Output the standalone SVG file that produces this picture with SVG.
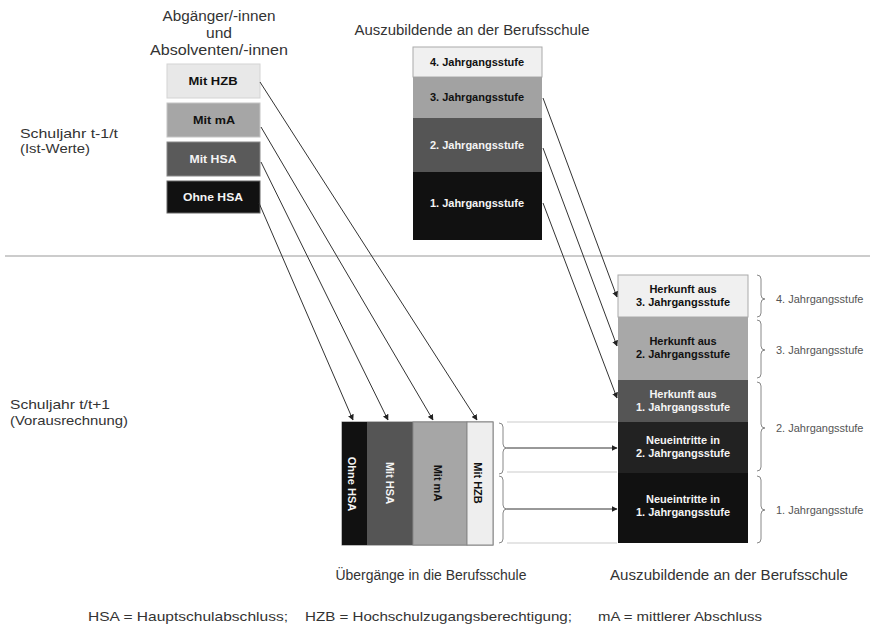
<svg xmlns="http://www.w3.org/2000/svg" width="875" height="629" viewBox="0 0 875 629">
<defs>
<marker id="ah" viewBox="0 0 10 10" refX="9" refY="5" markerWidth="6" markerHeight="6" orient="auto" markerUnits="userSpaceOnUse">
<path d="M0,0 L10,5 L0,10 z" fill="#222"/>
</marker>
<style>
text{font-family:"Liberation Sans",Arial,sans-serif;}
.hd{font-size:14px;fill:#333;text-anchor:middle;}
.lb{font-size:13px;fill:#333;}
.bx{font-size:11px;font-weight:bold;text-anchor:middle;}
.dk{fill:#111;}
.wt{fill:#f4f4f4;}
.side{font-size:11px;fill:#555;}
.conn{stroke:#333;stroke-width:1;fill:none;marker-end:url(#ah);}
.brace{stroke:#888;stroke-width:1;fill:none;}
.guide{stroke:#ccc;stroke-width:1.2;fill:none;}
.foot{font-size:13px;fill:#333;}
</style>
</defs>
<rect width="875" height="629" fill="#fff"/>

<g id="labels">
<text class="hd" x="219" y="21" textLength="113" lengthAdjust="spacingAndGlyphs">Abgänger/-innen</text>
<text class="hd" x="219" y="38" textLength="26" lengthAdjust="spacingAndGlyphs">und</text>
<text class="hd" x="219" y="55" textLength="138" lengthAdjust="spacingAndGlyphs">Absolventen/-innen</text>
<text class="hd" x="472" y="35" textLength="235" lengthAdjust="spacingAndGlyphs">Auszubildende  an der Berufsschule</text>
<text class="lb" x="20" y="138" textLength="98" lengthAdjust="spacingAndGlyphs">Schuljahr  t-1/t</text>
<text class="lb" x="20" y="153" textLength="70" lengthAdjust="spacingAndGlyphs">(Ist-Werte)</text>
<text class="lb" x="10" y="409" textLength="100" lengthAdjust="spacingAndGlyphs">Schuljahr  t/t+1</text>
<text class="lb" x="10" y="425" textLength="118" lengthAdjust="spacingAndGlyphs">(Vorausrechnung)</text>
<text class="hd" x="431" y="580" textLength="191" lengthAdjust="spacingAndGlyphs">Übergänge  in die Berufsschule</text>
<text class="hd" x="729" y="580" textLength="238" lengthAdjust="spacingAndGlyphs">Auszubildende  an der Berufsschule</text>
<text class="foot" x="88" y="621" textLength="200" lengthAdjust="spacingAndGlyphs">HSA = Hauptschulabschluss;</text>
<text class="foot" x="305" y="621" textLength="267" lengthAdjust="spacingAndGlyphs">HZB = Hochschulzugangsberechtigung;</text>
<text class="foot" x="598" y="621" textLength="164" lengthAdjust="spacingAndGlyphs">mA = mittlerer Abschluss</text>
</g>

<line x1="5" y1="256" x2="870" y2="256" stroke="#999" stroke-width="1.2"/>

<g id="abg-hzb"><rect x="167" y="64" width="93" height="34" fill="#e8e8e8" stroke="#d4d4d4"/><text class="bx dk" x="213" y="85" textLength="49" lengthAdjust="spacingAndGlyphs">Mit HZB</text></g>
<g id="abg-ma"><rect x="167" y="103" width="93" height="34" fill="#a6a6a6" stroke="#c4c4c4"/><text class="bx dk" x="214" y="124" textLength="42" lengthAdjust="spacingAndGlyphs">Mit mA</text></g>
<g id="abg-hsa"><rect x="167" y="142" width="93" height="34" fill="#5a5a5a" stroke="#888"/><text class="bx wt" x="213" y="163" textLength="47" lengthAdjust="spacingAndGlyphs">Mit HSA</text></g>
<g id="abg-ohne"><rect x="167" y="181" width="93" height="32" fill="#111" stroke="#666"/><text class="bx wt" x="213" y="201" textLength="60" lengthAdjust="spacingAndGlyphs">Ohne HSA</text></g>

<g id="top-4"><rect x="413" y="47" width="129" height="30" fill="#f0f0f0" stroke="#aaa"/><text class="bx dk" x="477" y="66">4. Jahrgangsstufe</text></g>
<g id="top-3"><rect x="413" y="77" width="129" height="41" fill="#a2a2a2"/><text class="bx dk" x="477" y="101">3. Jahrgangsstufe</text></g>
<g id="top-2"><rect x="413" y="118" width="129" height="54" fill="#555"/><text class="bx wt" x="477" y="149">2. Jahrgangsstufe</text></g>
<g id="top-1"><rect x="413" y="172" width="129" height="68" fill="#111"/><text class="bx wt" x="477" y="207">1. Jahrgangsstufe</text></g>

<g id="ue-block">
<rect x="342" y="422" width="151" height="123" fill="none" stroke="#777"/>
<g id="ue-ohne"><rect x="342" y="422" width="25" height="123" fill="#111"/><text class="bx wt" transform="translate(348,484) rotate(90)">Ohne HSA</text></g>
<g id="ue-hsa"><rect x="367" y="422" width="46" height="123" fill="#555"/><text class="bx wt" transform="translate(386,483) rotate(90)">Mit HSA</text></g>
<g id="ue-ma"><rect x="413" y="422" width="54" height="123" fill="#a6a6a6" stroke="#888"/><text class="bx dk" transform="translate(434,483) rotate(90)">Mit mA</text></g>
<g id="ue-hzb"><rect x="467" y="422" width="26" height="123" fill="#eee" stroke="#888"/><text class="bx dk" transform="translate(474,483) rotate(90)">Mit HZB</text></g>
</g>

<g id="az-h3"><rect x="618" y="275" width="130" height="42" fill="#f0f0f0" stroke="#aaa"/><text class="bx dk" x="683" y="293">Herkunft aus</text><text class="bx dk" x="683" y="306">3. Jahrgangsstufe</text></g>
<g id="az-h2"><rect x="618" y="317" width="130" height="63" fill="#a8a8a8"/><text class="bx dk" x="683" y="345">Herkunft aus</text><text class="bx dk" x="683" y="358">2. Jahrgangsstufe</text></g>
<g id="az-h1"><rect x="618" y="380" width="130" height="42" fill="#555"/><text class="bx wt" x="683" y="398">Herkunft aus</text><text class="bx wt" x="683" y="411">1. Jahrgangsstufe</text></g>
<g id="az-n2"><rect x="618" y="422" width="130" height="51" fill="#222"/><text class="bx wt" x="683" y="444">Neueintritte in</text><text class="bx wt" x="683" y="457">2. Jahrgangsstufe</text></g>
<g id="az-n1"><rect x="618" y="473" width="130" height="70" fill="#111"/><text class="bx wt" x="683" y="503">Neueintritte in</text><text class="bx wt" x="683" y="516">1. Jahrgangsstufe</text></g>

<g id="side-labels">
<text class="side" x="776" y="303">4. Jahrgangsstufe</text>
<text class="side" x="776" y="354">3. Jahrgangsstufe</text>
<text class="side" x="776" y="432">2. Jahrgangsstufe</text>
<text class="side" x="776" y="514">1. Jahrgangsstufe</text>
</g>

<g id="connectors">
<path class="conn" d="M260,82 L477,420"/>
<path class="conn" d="M261,127 L433,420"/>
<path class="conn" d="M261,162 L388,420"/>
<path class="conn" d="M259,203 L353,420"/>
<path class="conn" d="M543,98 L617,297"/>
<path class="conn" d="M543,148 L617,346"/>
<path class="conn" d="M543,203 L617,398"/>
<path class="guide" d="M507,422 H617 M507,472 H617 M507,543 H617"/>
<path class="conn" d="M507,448 L617,448"/>
<path class="conn" d="M507,509 L617,509"/>
<path class="brace" d="M499,423 Q503,423 503,427 V444 Q503,448 507,448 Q503,448 503,452 V470 Q503,474 499,474"/>
<path class="brace" d="M499,476 Q503,476 503,480 V505 Q503,509 507,509 Q503,509 503,513 V539 Q503,543 499,543"/>
<path class="brace" d="M757,275 Q761,275 761,279 V295 Q761,299 765,299 Q761,299 761,303 V313 Q761,317 757,317"/>
<path class="brace" d="M757,320 Q761,320 761,324 V346 Q761,350 765,350 Q761,350 761,354 V374 Q761,378 757,378"/>
<path class="brace" d="M757,382 Q761,382 761,386 V424 Q761,428 765,428 Q761,428 761,432 V467 Q761,471 757,471"/>
<path class="brace" d="M757,476 Q761,476 761,480 V506 Q761,510 765,510 Q761,510 761,514 V539 Q761,543 757,543"/>
</g>
</svg>
